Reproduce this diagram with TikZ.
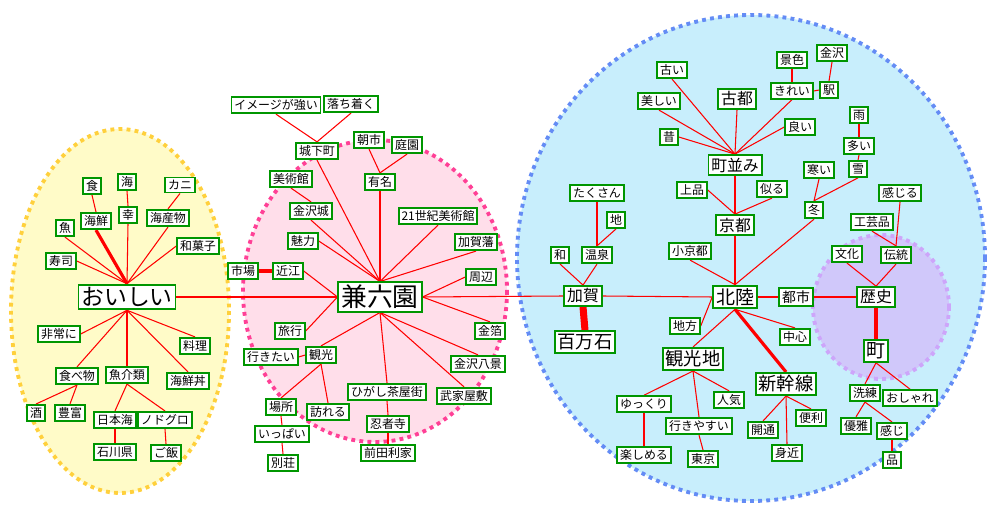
\documentclass[tikz,border=0pt]{standalone}
\usepackage{fontspec}
\setmainfont{Noto Sans CJK JP}
\usepackage{xcolor}
\usepackage{tikz}
\usetikzlibrary{backgrounds}

\definecolor{wgreen}{RGB}{0,150,0}
\definecolor{yfill}{RGB}{255,251,200}
\definecolor{yline}{RGB}{255,208,60}
\definecolor{pfill}{RGB}{255,222,234}
\definecolor{pline}{RGB}{255,64,150}
\definecolor{bfill}{RGB}{200,238,252}
\definecolor{bline}{RGB}{100,140,245}
\definecolor{vfill}{RGB}{208,200,250}
\definecolor{vline}{RGB}{205,165,250}

\begin{document}
\begin{tikzpicture}[
    x=0.02cm, y=-0.02cm,
    word/.style={draw=wgreen, fill=white, line width=1.1pt, inner xsep=1.6pt, inner ysep=1.5pt, font=\fontsize{6.8}{8}\selectfont},
    tallword/.style={word, font=\fontsize{7.9}{9}\selectfont},
    midword/.style={word, font=\fontsize{9}{10}\selectfont},
    bigword/.style={word, font=\fontsize{10.4}{12}\selectfont},
    keyword/.style={word, font=\fontsize{13}{15}\selectfont},
    link/.style={draw=red, line width=0.6pt},
    strong/.style={link, line width=1.8pt},
    heavy/.style={link, line width=4pt},
    cluster/.style={line width=2.2pt, dash pattern=on 2.2pt off 2.4pt}
]
\useasboundingbox (0,0) rectangle (1000,519);

\node[keyword] (oishii) at (127,297) {おいしい};
\node[word] (shoku) at (92,186) {食};
\node[word] (umi) at (127,182) {海};
\node[word] (kani) at (180,185) {カニ};
\node[word] (kaisen) at (96,221) {海鮮};
\node[word] (sachi) at (128,215) {幸};
\node[word] (kaisanbutsu) at (168,218) {海産物};
\node[word] (sakana) at (65,228) {魚};
\node[word] (wagashi) at (198,246) {和菓子};
\node[word] (sushi) at (61,261) {寿司};
\node[word] (hijouni) at (59,334) {非常に};
\node[word] (ryouri) at (195,346) {料理};
\node[word] (tabemono) at (77,376) {食べ物};
\node[word] (gyokai) at (127,375) {魚介類};
\node[word] (kaisendon) at (188,381) {海鮮丼};
\node[word] (sake) at (36,413) {酒};
\node[word] (houfu) at (70,413) {豊富};
\node[word] (nihonkai) at (115,420) {日本海};
\node[word] (nodoguro) at (165,420) {ノドグロ};
\node[word] (ishikawa) at (115,452) {石川県};
\node[word] (gohan) at (166,453) {ご飯};

\node[keyword, font=\fontsize{14.7}{16}\selectfont] (kenrokuen) at (380,297) {兼六園};
\node[word] (image) at (276,105) {イメージが強い};
\node[word] (ochitsuku) at (351,104) {落ち着く};
\node[word] (jokamachi) at (317,151) {城下町};
\node[word] (asaichi) at (369,140) {朝市};
\node[word] (teien) at (407,145) {庭園};
\node[word] (yumei) at (380,182) {有名};
\node[word] (bijutsukan) at (291,179) {美術館};
\node[word] (kanazawajo) at (311,211) {金沢城};
\node[word] (miryoku) at (303,241) {魅力};
\node[word, minimum width=1.5cm] (museum) at (438,216) {21世紀美術館};
\node[word] (kagahan) at (476,242) {加賀藩};
\node[word] (ichiba) at (243,271) {市場};
\node[word] (omicho) at (288,271) {近江};
\node[word] (shuhen) at (481,277) {周辺};
\node[word] (ryoko) at (290,331) {旅行};
\node[word] (kanko) at (321,355) {観光};
\node[word] (ikitai) at (271,357) {行きたい};
\node[word] (basho) at (281,407) {場所};
\node[word] (otozureru) at (328,412) {訪れる};
\node[word] (ippai) at (282,434) {いっぱい};
\node[word] (bessou) at (283,463) {別荘};
\node[word] (higashi) at (387,392) {ひがし茶屋街};
\node[word] (ninjadera) at (388,424) {忍者寺};
\node[word] (maeda) at (388,453) {前田利家};
\node[word] (kinpaku) at (490,331) {金箔};
\node[word] (hakkei) at (478,364) {金沢八景};
\node[word] (bukeyashiki) at (464,396) {武家屋敷};

\node[midword] (kaga) at (583,296) {加賀};
\node[bigword] (hyakumangoku) at (585,342) {百万石};
\node[word] (takusan) at (597,193) {たくさん};
\node[word] (chi) at (616,220) {地};
\node[word] (wa) at (560,255) {和};
\node[word] (onsen) at (597,255) {温泉};
\node[bigword, font=\fontsize{10.8}{12}\selectfont] (hokuriku) at (735,297) {北陸};
\node[word] (shokyoto) at (690,251) {小京都};
\node[midword] (kyoto) at (735,225) {京都};
\node[word] (johin) at (692,190) {上品};
\node[word] (niru) at (772,189) {似る};
\node[word] (chiho) at (685,326) {地方};
\node[midword] (machinami) at (735,165) {町並み};
\node[word] (furui) at (672,70) {古い};
\node[word] (keshiki) at (792,60) {景色};
\node[word] (kanazawa) at (832,53) {金沢};
\node[word] (utsukushii) at (659,101) {美しい};
\node[midword] (koto) at (737,99) {古都};
\node[word] (kirei) at (792,91) {きれい};
\node[word] (eki) at (829,90) {駅};
\node[word] (mukashi) at (669,137) {昔};
\node[word] (yoi) at (800,127) {良い};
\node[word] (samui) at (819,170) {寒い};
\node[word] (fuyu) at (814,210) {冬};
\node[word] (ame) at (859,115) {雨};
\node[word] (oi) at (859,146) {多い};
\node[word] (yuki) at (858,169) {雪};
\node[word] (kanjiru) at (900,193) {感じる};
\node[word] (kogeihin) at (872,222) {工芸品};
\node[word] (bunka) at (847,254) {文化};
\node[word] (dento) at (896,255) {伝統};
\node[midword] (rekishi) at (876,297) {歴史};
\node[tallword] (toshi) at (796,297) {都市};
\node[bigword, font=\fontsize{10.8}{12}\selectfont] (machi) at (876,351) {町};
\node[word] (senren) at (865,393) {洗練};
\node[word] (oshare) at (910,398) {おしゃれ};
\node[word] (yuga) at (856,426) {優雅};
\node[word] (kanji) at (892,431) {感じ};
\node[word] (hin) at (892,460) {品};
\node[word] (chushin) at (795,337) {中心};
\node[bigword] (kankochi) at (693,359) {観光地};
\node[bigword] (shinkansen) at (786,384) {新幹線};
\node[word] (yukkuri) at (644,404) {ゆっくり};
\node[word] (ninki) at (729,400) {人気};
\node[word] (ikiyasui) at (699,426) {行きやすい};
\node[word] (tanoshimeru) at (644,455) {楽しめる};
\node[word] (tokyo) at (703,459) {東京};
\node[word] (kaitsu) at (763,430) {開通};
\node[word] (benri) at (811,418) {便利};
\node[word] (mijika) at (787,453) {身近};

\begin{scope}[on background layer]
\draw[cluster, fill=yfill, draw=yline] (120,311) ellipse [x radius=109, y radius=182];
\draw[cluster, fill=pfill, draw=pline] (375,291) ellipse [x radius=132, y radius=151];
\draw[cluster, fill=bfill, draw=bline] (751,258) ellipse [x radius=234, y radius=243];
\draw[cluster, fill=vfill, draw=vline] (881,307) ellipse [x radius=68, y radius=72];

\draw[link] (sushi.east) -- (oishii.north);
\draw[link] (sakana.south) -- (oishii.north);
\draw[strong] (kaisen.south) -- (oishii.north);
\draw[link] (sachi.south) -- (oishii.north);
\draw[link] (kaisanbutsu.south) -- (oishii.north);
\draw[link] (wagashi.west) -- (oishii.north);
\draw[link] (shoku.south) -- (kaisen.north);
\draw[link] (umi.south) -- (sachi.north);
\draw[link] (kani.south) -- (kaisanbutsu.north);
\draw[link] (hijouni.east) -- (oishii.south);
\draw[link] (ryouri.north) -- (oishii.south);
\draw[link] (tabemono.north) -- (oishii.south);
\draw[link] (gyokai.north) -- (oishii.south);
\draw[link] (kaisendon.north) -- (oishii.south);
\draw[link] (sake.north) -- (tabemono.south);
\draw[link] (houfu.north) -- (tabemono.south);
\draw[link] (nihonkai.north) -- (gyokai.south);
\draw[link] (nodoguro.north) -- (gyokai.south);
\draw[link] (ishikawa.north) -- (nihonkai.south);
\draw[link] (gohan.north) -- (nodoguro.south);
\draw[link] (oishii.east) -- (kenrokuen.west);

\draw[link] (image.south) -- (jokamachi.north);
\draw[link] (ochitsuku.south) -- (jokamachi.north);
\draw[link] (asaichi.south) -- (yumei.north);
\draw[link] (teien.south) -- (yumei.north);
\draw[link] (bijutsukan.south) -- (kanazawajo.north);
\draw[link] (jokamachi.south) -- (kenrokuen.north);
\draw[link] (yumei.south) -- (kenrokuen.north);
\draw[link] (kanazawajo.south) -- (kenrokuen.north);
\draw[link] (miryoku.east) -- (kenrokuen.north);
\draw[link] (museum.south) -- (kenrokuen.north);
\draw[link] (kagahan.south) -- (kenrokuen.north);
\draw[strong] (ichiba.east) -- (omicho.west);
\draw[link] (omicho.east) -- (kenrokuen.west);
\draw[link] (shuhen.west) -- (kenrokuen.east);
\draw[link] (ryoko.east) -- (kenrokuen.west);
\draw[link] (kinpaku.north) -- (kenrokuen.east);
\draw[link] (kanko.north) -- (kenrokuen.south);
\draw[link] (higashi.north) -- (kenrokuen.south);
\draw[link] (hakkei.north) -- (kenrokuen.south);
\draw[link] (bukeyashiki.north) -- (kenrokuen.south);
\draw[link] (ikitai.east) -- (kanko.west);
\draw[link] (basho.north) -- (kanko.south);
\draw[link] (otozureru.north) -- (kanko.south);
\draw[link] (ippai.north) -- (basho.south);
\draw[link] (bessou.north) -- (ippai.south);
\draw[link] (ninjadera.north) -- (higashi.south);
\draw[link] (maeda.north) -- (ninjadera.south);
\draw[link] (kenrokuen.east) -- (kaga.west);

\draw[link] (takusan.south) -- (onsen.north);
\draw[link] (chi.south) -- (onsen.north);
\draw[link] (wa.south) -- (kaga.north);
\draw[link] (onsen.south) -- (kaga.north);
\draw[heavy] (kaga.south) -- (hyakumangoku.north);
\draw[link] (kaga.east) -- (hokuriku.west);
\draw[link] (shokyoto.south) -- (hokuriku.north);
\draw[link] (kyoto.south) -- (hokuriku.north);
\draw[link] (fuyu.south) -- (hokuriku.north);
\draw[link] (chiho.east) -- (hokuriku.west);
\draw[link] (hokuriku.east) -- (toshi.west);
\draw[link] (machinami.south) -- (kyoto.north);
\draw[link] (johin.east) -- (kyoto.north);
\draw[link] (niru.south) -- (kyoto.north);
\draw[link] (furui.south) -- (machinami.north);
\draw[link] (utsukushii.south) -- (machinami.north);
\draw[link] (mukashi.east) -- (machinami.north);
\draw[link] (koto.south) -- (machinami.north);
\draw[link] (kirei.south) -- (machinami.north);
\draw[link] (yoi.west) -- (machinami.north);
\draw[link] (keshiki.south) -- (kirei.north);
\draw[link] (eki.west) -- (kirei.east);
\draw[link] (kanazawa.south) -- (eki.north);
\draw[link] (samui.south) -- (fuyu.north);
\draw[link] (yuki.south) -- (fuyu.north);
\draw[link] (ame.south) -- (oi.north);
\draw[link] (oi.south) -- (yuki.north);
\draw[link] (kanjiru.south) -- (dento.north);
\draw[link] (kogeihin.south) -- (dento.north);
\draw[link] (bunka.south) -- (rekishi.north);
\draw[link] (dento.south) -- (rekishi.north);
\draw[link] (toshi.east) -- (rekishi.west);
\draw[strong] (rekishi.south) -- (machi.north);
\draw[link] (machi.south) -- (senren.north);
\draw[link] (machi.south) -- (oshare.north);
\draw[link] (senren.south) -- (yuga.north);
\draw[link] (senren.south) -- (kanji.north);
\draw[link] (kanji.south) -- (hin.north);
\draw[link] (hokuriku.south) -- (chushin.north);
\draw[link] (hokuriku.south) -- (kankochi.north);
\draw[strong] (hokuriku.south) -- (shinkansen.north);
\draw[link] (kankochi.south) -- (yukkuri.north);
\draw[link] (kankochi.south) -- (ninki.north);
\draw[link] (kankochi.south) -- (ikiyasui.north);
\draw[link] (yukkuri.south) -- (tanoshimeru.north);
\draw[link] (ikiyasui.south) -- (tokyo.north);
\draw[link] (shinkansen.south) -- (kaitsu.north);
\draw[link] (shinkansen.south) -- (benri.north);
\draw[link] (shinkansen.south) -- (mijika.north);
\end{scope}
\end{tikzpicture}
\end{document}
